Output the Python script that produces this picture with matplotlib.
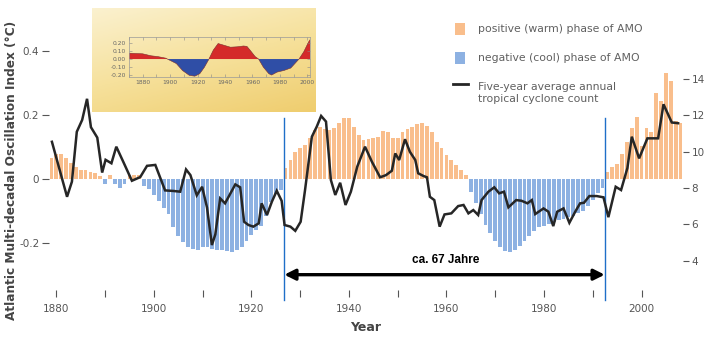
import numpy as np
import matplotlib
matplotlib.use("Agg")
import matplotlib.pyplot as plt
from matplotlib.patches import Rectangle
from matplotlib.colors import LinearSegmentedColormap

plt.rcParams['axes.unicode_minus'] = False
plt.rcParams['font.family'] = ['DejaVu Sans']

# ---- data -------------------------------------------------------------------
amo_years = list(range(1879, 2009))
amo_index = [
    # 1879 - 1926
    0.067, 0.077, 0.077, 0.065, 0.049, 0.038, 0.028, 0.028, 0.022, 0.018,
    0.008, -0.015, 0.011, -0.016, -0.028, -0.016, 0.013, 0.013, 0.013, -0.023,
    -0.030, -0.049, -0.070, -0.090, -0.110, -0.150, -0.180, -0.198, -0.214, -0.220,
    -0.224, -0.214, -0.214, -0.219, -0.224, -0.224, -0.227, -0.229, -0.224, -0.214,
    -0.193, -0.177, -0.160, -0.146, -0.115, -0.073, -0.047, -0.035,
    # 1927 - 1964
    0.033, 0.059, 0.085, 0.098, 0.106, 0.127, 0.153, 0.164, 0.158, 0.153,
    0.160, 0.174, 0.190, 0.190, 0.164, 0.138, 0.122, 0.125, 0.129, 0.132,
    0.150, 0.148, 0.127, 0.127, 0.148, 0.156, 0.164, 0.171, 0.177, 0.167,
    0.148, 0.117, 0.096, 0.075, 0.059, 0.044, 0.028, 0.012,
    # 1965 - 1992
    -0.040, -0.075, -0.110, -0.145, -0.170, -0.195, -0.213, -0.225, -0.229, -0.222,
    -0.210, -0.195, -0.178, -0.163, -0.152, -0.146, -0.140, -0.135, -0.130, -0.125,
    -0.120, -0.115, -0.108, -0.100, -0.085, -0.065, -0.045, -0.028,
    # 1993 - 2008
    0.021, 0.036, 0.047, 0.078, 0.115, 0.161, 0.193, 0.104, 0.161, 0.146,
    0.271, 0.245, 0.333, 0.307, 0.182, 0.177,
]

cyc_years = [
    1879.1, 1882.2, 1883.2, 1884.2, 1885.3, 1886.3, 1887.1, 1888.4, 1889.4, 1890.1,
    1891.3, 1892.3, 1893.8, 1895.5, 1897.2, 1898.6, 1900.3, 1902.3, 1904.0, 1905.4,
    1906.6, 1907.5, 1908.8, 1909.9, 1910.9, 1911.9, 1912.6, 1913.6, 1914.6, 1916.7,
    1917.7, 1918.5, 1919.4, 1920.4, 1921.5, 1922.1, 1923.2, 1924.2, 1925.2, 1926.2,
    1926.8, 1928.0, 1929.0, 1930.1, 1931.0, 1932.4, 1933.4, 1934.3, 1935.3, 1936.3,
    1937.2, 1938.2, 1939.3, 1940.4, 1941.7, 1943.3, 1944.7, 1946.4, 1947.6, 1948.8,
    1949.5, 1950.3, 1951.5, 1952.5, 1953.6, 1954.2, 1955.3, 1956.0, 1956.6, 1957.5,
    1958.6, 1959.6, 1961.0, 1962.4, 1963.5, 1964.5, 1965.5, 1966.5, 1967.2, 1968.6,
    1969.8, 1970.8, 1971.8, 1972.7, 1974.3, 1975.4, 1976.6, 1977.5, 1978.2, 1979.9,
    1980.9, 1981.9, 1982.7, 1984.0, 1985.2, 1986.4, 1987.4, 1988.2, 1989.3, 1990.8,
    1992.2, 1993.2, 1994.7, 1995.8, 1997.1, 1998.0, 1999.5, 2001.2, 2003.4, 2004.5,
    2006.2, 2007.5,
]
cyc_counts = [
    10.54, 7.52, 8.35, 11.09, 11.74, 12.90, 11.34, 10.77, 8.85, 9.55,
    9.36, 10.27, 9.40, 8.40, 8.60, 9.22, 9.27, 7.87, 7.84, 7.80,
    9.02, 8.71, 7.60, 8.07, 6.93, 4.87, 5.45, 7.43, 7.16, 8.20,
    8.04, 6.15, 5.97, 5.88, 6.06, 7.16, 6.52, 7.25, 7.85, 7.30,
    5.97, 5.88, 5.65, 6.15, 7.89, 10.82, 11.37, 11.96, 11.65, 8.44,
    7.62, 8.29, 7.07, 7.80, 9.17, 10.27, 9.45, 8.59, 8.71, 8.95,
    9.90, 9.54, 10.68, 9.99, 9.54, 8.81, 8.66, 8.59, 7.52, 7.34,
    5.88, 6.55, 6.61, 7.01, 7.07, 6.61, 6.79, 6.52, 7.34, 7.80,
    8.04, 7.71, 7.80, 6.94, 7.34, 7.30, 7.16, 7.34, 6.57, 6.88,
    6.70, 5.91, 6.70, 6.88, 6.09, 6.70, 7.16, 7.19, 7.56, 7.56,
    7.49, 6.40, 8.07, 7.89, 9.10, 10.82, 9.63, 10.73, 10.73, 12.60,
    11.60, 11.56,
]

inset_years = [1870, 1880, 1886, 1891, 1897, 1898, 1904.5, 1909, 1914, 1918,
               1921.6, 1925, 1928, 1931.5, 1935, 1939, 1944, 1949, 1953.5, 1956,
               1958, 1962, 1964.5, 1968, 1972, 1974, 1978, 1983, 1988, 1991,
               1994, 1997.5, 2001, 2003]
inset_temp = [0.072, 0.064, 0.04, 0.03, 0.01, 0.0, -0.055, -0.14, -0.2, -0.21,
              -0.18, -0.10, -0.01, 0.11, 0.19, 0.17, 0.145, 0.15, 0.16, 0.155,
              0.115, 0.03, 0.0, -0.10, -0.18, -0.196, -0.16, -0.14, -0.11, -0.055,
              0.0, 0.09, 0.21, 0.26]

left_ticks = [-0.2, 0, 0.2, 0.4]
left_labels = ['-0.2', '0', '0.2', '0.4']
right_ticks = [4, 6, 8, 10, 12, 14]
legend_labels = ['positive (warm) phase of AMO', 'negative (cool) phase of AMO',
                 'Five-year average annual\ntropical cyclone count']

WARM = '#f9be8c'
COOL = '#8db1e2'
GREY = '#555555'
W, H = 709, 342


def fig_rect(x0, y0, x1, y1):
    """pixel box (top-left origin) -> figure fraction rect"""
    return [x0 / W, 1 - y1 / H, (x1 - x0) / W, (y1 - y0) / H]


fig = plt.figure(figsize=(W / 100, H / 100), dpi=100)

# ---- main chart ---------------------------------------------------------------
ax = fig.add_axes(fig_rect(49, 30, 683, 290))
amo = np.array(amo_index)
colors = [WARM if v >= 0 else COOL for v in amo]
ax.bar(amo_years, amo, width=0.78, color=colors, linewidth=0)
ax.set_xlim(1878.5, 2008.5)
ax.set_ylim(-0.348, 0.467)
for s in ax.spines.values():
    s.set_visible(False)
ax.set_yticks(left_ticks)
ax.set_yticklabels(left_labels)
ax.set_xticks(range(1880, 2001, 20))
ax.set_xticks(range(1890, 2001, 20), minor=True)
ax.tick_params(axis='y', length=5, width=0.8, color=GREY, labelcolor=GREY,
               labelsize=7.5, pad=2)
ax.tick_params(axis='x', which='both', length=5, width=0.8, color=GREY,
               labelcolor=GREY, labelsize=7.5, pad=5)
ax.set_xlabel('Year', fontsize=9, fontweight='bold', color='#444444', labelpad=5)

# 67 year span
for yr in (1926.75, 1992.45):
    ax.plot([yr, yr], [0.19, -0.379], color='#1f6fc8', lw=1.0, clip_on=False, zorder=3)
ax.annotate('', xy=(1926.75, -0.30), xytext=(1992.45, -0.30),
            arrowprops=dict(arrowstyle='<|-|>', color='black', lw=2.4,
                            mutation_scale=16, shrinkA=0, shrinkB=0))
ax.text(1959.9, -0.254, 'ca. 67 Jahre', ha='center', va='center',
        fontsize=8.5, fontweight='bold', family='Liberation Sans')

ax2 = ax.twinx()
ax2.plot(cyc_years, cyc_counts, color='#262626', lw=1.8, solid_joinstyle='miter')
ax2.set_ylim(2.4, 16.68)
for s in ax2.spines.values():
    s.set_visible(False)
ax2.set_yticks(right_ticks)
ax2.tick_params(axis='y', length=4, width=0.8, color=GREY, labelcolor=GREY,
                labelsize=7.5, pad=2)

fig.text(12 / W, 1 - 170 / H, 'Atlantic Multi-decadal Oscillation Index (°C)',
         rotation=90, ha='center', va='center', fontsize=8.7,
         fontweight='bold', color='#444444')

# ---- legend (pixel coordinates) ---------------------------------------------
lg = fig.add_axes([0, 0, 1, 1])
lg.set_xlim(0, W)
lg.set_ylim(H, 0)
lg.axis('off')
lg.add_patch(Rectangle((455, 23), 10, 12, color=WARM, lw=0))
lg.add_patch(Rectangle((455, 52), 10, 12, color=COOL, lw=0))
lg.plot([453, 468], [84, 84], color='#262626', lw=2)
lg.text(478, 29, legend_labels[0], va='center', fontsize=7.8, color='#606060')
lg.text(478, 58, legend_labels[1], va='center', fontsize=7.8, color='#606060')
lg.text(478, 92.5, legend_labels[2], va='center', fontsize=7.8, color='#606060',
        linespacing=1.25)

# ---- inset ------------------------------------------------------------------
bg = fig.add_axes(fig_rect(92, 8, 316, 112))
cmap = LinearSegmentedColormap.from_list('gold', ['#fbf1cf', '#f6e19c', '#efcd6e'])
gx, gy = np.meshgrid(np.linspace(0, 1, 200), np.linspace(0, 1, 100))
bg.imshow(0.35 * gx + 0.65 * gy, cmap=cmap, aspect='auto', extent=(0, 1, 1, 0))
bg.axis('off')

ins = fig.add_axes(fig_rect(129, 37, 310, 77))
ins.patch.set_alpha(0)
ins.fill_between(inset_years, inset_temp, 0, where=np.array(inset_temp) >= 0,
                 interpolate=True, color='#d42a2a', lw=0)
ins.fill_between(inset_years, inset_temp, 0, where=np.array(inset_temp) <= 0,
                 interpolate=True, color='#2f4ea6', lw=0)
ins.plot(inset_years, inset_temp, color='#7a3030', lw=0.4)
ins.set_xlim(1870, 2002)
ins.set_ylim(-0.22, 0.27)
ins.set_xticks(range(1880, 2001, 20))
ins.set_xticks(range(1870, 2001, 10), minor=True)
ins.set_yticks([-0.2, -0.1, 0, 0.1, 0.2])
ins.set_yticklabels(['-0.20', '-0.10', '0.00', '0.10', '0.20'])
ins.tick_params(which='both', direction='in', top=True, right=True, length=2,
                width=0.4, color='#888888', labelsize=4.3, labelcolor='#666666', pad=2)
for s in ins.spines.values():
    s.set_color('#999999')
    s.set_linewidth(0.5)
lg.text(103, 50, '°C', ha='center', va='center', fontsize=7, fontweight='bold',
        color='#333333')
lg.text(208, 97, 'Year', ha='center', va='center', fontsize=6.3, fontweight='bold',
        color='#555555')

fig.savefig('out.png', dpi=100)
